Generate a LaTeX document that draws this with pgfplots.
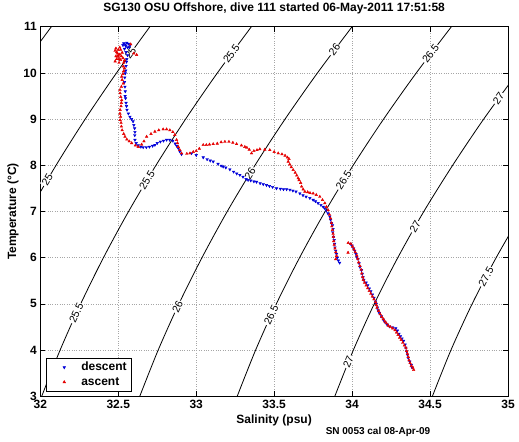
\documentclass[border=0pt]{standalone}
\usepackage{fontspec}
\setmainfont{Liberation Sans}
\usepackage{pgfplots}
\pgfplotsset{compat=1.18}
\begin{document}
\begin{tikzpicture}
\begin{axis}[
  name=ax,
  scale only axis,
  width=467.7pt, height=369.6pt,
  xmin=32, xmax=35, ymin=3, ymax=11,
  xtick={32,32.5,33,33.5,34,34.5,35},
  ytick={3,4,5,6,7,8,9,10,11},
  /pgf/number format/assume math mode=true,
  ticklabel style={font=\bfseries\fontsize{12}{14}\selectfont},
  tick align=inside, xtick pos=both, ytick pos=both,
  major tick length=5pt,
  tick style={black, line width=0.5pt},
  axis line style={black, line width=0.6pt},
  grid=major,
  grid style={gray!70, dotted, line width=0.6pt},
  title={SG130 OSU Offshore, dive 111 started 06-May-2011 17:51:58},
  title style={at={(rel axis cs:0.5,1.0344)}, anchor=center, font=\bfseries\fontsize{12}{14}\selectfont},
  xlabel={Salinity (psu)},
  xlabel style={at={(rel axis cs:0.5,-0.066)}, anchor=center, font=\bfseries\fontsize{12}{14}\selectfont},
  ylabel={Temperature (°C)},
  ylabel style={at={(rel axis cs:-0.0584,0.5)}, anchor=center, font=\bfseries\fontsize{12}{14}\selectfont},
  legend cell align=left,
  legend style={at={(rel axis cs:0.0122,0.0143)}, anchor=south west, draw=black, line width=0.5pt, fill=white,
    font=\bfseries\fontsize{12}{14}\selectfont, inner xsep=3pt, inner ysep=2pt, row sep=1pt},
  legend image code/.code={\path[draw=none, fill=none] (0pt,-2pt) rectangle (30pt,2pt); \draw[#1] plot[only marks] coordinates {(15pt,0pt)};},
]
% isopycnal contours
\addplot[black, line width=0.8pt, smooth, forget plot] coordinates {(31.856,10) (31.962,10.5) (32.071,11)};
\addplot[black, line width=0.8pt, smooth, forget plot] coordinates {(31.928,7) (32.101,8) (32.288,9) (32.489,10) (32.703,11)};
\addplot[black, line width=0.8pt, smooth, forget plot] coordinates {(32.009,3) (32.127,4) (32.259,5) (32.405,6) (32.566,7) (32.742,8) (32.932,9) (33.136,10) (33.354,11)};
\addplot[black, line width=0.8pt, smooth, forget plot] coordinates {(32.638,3) (32.756,4) (32.889,5) (33.037,6) (33.199,7) (33.377,8) (33.570,9) (33.778,10) (34.000,11)};
\addplot[black, line width=0.8pt, smooth, forget plot] coordinates {(33.263,3) (33.381,4) (33.514,5) (33.663,6) (33.827,7) (34.007,8) (34.202,9) (34.412,10) (34.637,11)};
\addplot[black, line width=0.8pt, smooth, forget plot] coordinates {(33.889,3) (34.008,4) (34.142,5) (34.293,6) (34.460,7) (34.645,8) (34.844,9) (35.060,10)};
\addplot[black, line width=0.8pt, smooth, forget plot] coordinates {(34.515,3) (34.634,4) (34.770,5) (34.924,6) (35.095,7)};
% contour labels
\begin{scope}[every node/.style={fill=white, inner sep=0.8pt, font=\fontsize{10.5}{12}\selectfont}]
\node[rotate=54] at (axis cs:32.579,10.43) {25};
\node[rotate=59] at (axis cs:32.044,7.68) {25};
\node[rotate=54] at (axis cs:33.226,10.42) {25.5};
\node[rotate=59] at (axis cs:32.684,7.68) {25.5};
\node[rotate=65] at (axis cs:32.231,4.80) {25.5};
\node[rotate=53] at (axis cs:33.887,10.50) {26};
\node[rotate=58] at (axis cs:33.346,7.83) {26};
\node[rotate=65] at (axis cs:32.880,4.94) {26};
\node[rotate=53] at (axis cs:34.504,10.42) {26.5};
\node[rotate=58] at (axis cs:33.947,7.68) {26.5};
\node[rotate=65] at (axis cs:33.481,4.76) {26.5};
\node[rotate=54] at (axis cs:34.939,9.45) {27};
\node[rotate=60] at (axis cs:34.404,6.67) {27};
\node[rotate=67] at (axis cs:33.976,3.75) {27};
\node[rotate=62] at (axis cs:34.859,5.59) {27.5};
\end{scope}
% descent
\addplot[only marks, mark=triangle*, mark size=1.5pt, color=blue!85!black, mark options={rotate=180}] table {
S T
32.535 10.64
32.545 10.62
32.555 10.65
32.565 10.63
32.575 10.60
32.548 10.58
32.560 10.55
32.530 10.60
32.540 10.52
32.570 10.56
32.550 10.45
32.560 10.38
32.555 10.30
32.553 10.24
32.550 10.15
32.548 10.05
32.545 9.99
32.542 9.90
32.540 9.80
32.543 9.70
32.545 9.60
32.544 9.50
32.547 9.45
32.550 9.35
32.553 9.28
32.556 9.20
32.565 9.12
32.575 9.05
32.585 9.00
32.595 8.95
32.600 8.87
32.605 8.80
32.607 8.72
32.606 8.65
32.607 8.55
32.615 8.48
32.628 8.43
32.645 8.40
32.660 8.39
32.680 8.39
32.700 8.40
32.720 8.42
32.735 8.44
32.750 8.48
32.770 8.51
32.790 8.53
32.810 8.55
32.830 8.55
32.850 8.53
32.865 8.47
32.875 8.42
32.885 8.37
32.895 8.30
32.906 8.24
32.970 8.26
33.000 8.22
33.045 8.17
33.070 8.13
33.090 8.10
33.109 8.08
33.140 8.03
33.160 7.99
33.173 7.97
33.190 7.95
33.216 7.91
33.240 7.86
33.260 7.82
33.280 7.79
33.300 7.75
33.320 7.70
33.333 7.68
33.350 7.67
33.370 7.65
33.387 7.64
33.410 7.61
33.430 7.59
33.451 7.57
33.470 7.55
33.490 7.53
33.515 7.50
33.540 7.49
33.560 7.48
33.580 7.48
33.601 7.47
33.620 7.45
33.640 7.43
33.665 7.39
33.685 7.35
33.705 7.32
33.729 7.29
33.750 7.25
33.765 7.22
33.782 7.18
33.800 7.14
33.815 7.10
33.825 7.07
33.835 7.02
33.845 6.96
33.857 6.89
33.862 6.82
33.868 6.75
33.874 6.70
33.878 6.62
33.876 6.55
33.880 6.45
33.885 6.38
33.888 6.30
33.890 6.22
33.895 6.15
33.900 6.08
33.905 6.00
33.912 5.94
33.920 5.89
33.990 6.30
34.000 6.26
34.010 6.20
34.017 6.15
34.025 6.08
34.030 6.02
34.038 5.97
34.045 5.88
34.050 5.80
34.060 5.73
34.065 5.65
34.070 5.58
34.075 5.52
34.090 5.46
34.100 5.40
34.110 5.33
34.120 5.27
34.130 5.20
34.140 5.13
34.150 5.05
34.155 5.00
34.162 4.92
34.167 4.86
34.175 4.80
34.188 4.73
34.200 4.66
34.210 4.61
34.225 4.55
34.240 4.51
34.260 4.49
34.280 4.47
34.290 4.42
34.300 4.35
34.310 4.30
34.320 4.25
34.330 4.20
34.340 4.12
34.345 4.05
34.350 3.97
34.355 3.90
34.360 3.83
34.370 3.75
34.380 3.68
34.385 3.62
};
\addlegendentry{descent}
% ascent
\addplot[only marks, mark=triangle*, mark size=1.5pt, color=red!90!black] table {
S T
34.395 3.57
34.390 3.62
34.380 3.66
34.372 3.72
34.365 3.78
34.360 3.85
34.355 3.92
34.350 3.98
34.345 4.05
34.335 4.10
34.325 4.16
34.315 4.22
34.305 4.27
34.295 4.33
34.285 4.38
34.275 4.43
34.260 4.47
34.245 4.50
34.232 4.53
34.220 4.58
34.210 4.62
34.200 4.67
34.190 4.72
34.180 4.78
34.170 4.85
34.160 4.92
34.155 4.98
34.150 5.04
34.140 5.10
34.130 5.16
34.120 5.22
34.110 5.28
34.100 5.34
34.090 5.40
34.080 5.46
34.072 5.52
34.068 5.58
34.062 5.66
34.058 5.74
34.050 5.82
34.042 5.90
34.036 5.98
34.030 6.05
34.020 6.12
34.012 6.18
34.003 6.24
33.992 6.30
33.975 6.32
33.974 6.11
33.895 5.97
33.900 6.04
33.895 6.12
33.890 6.20
33.885 6.28
33.882 6.36
33.880 6.45
33.878 6.52
33.874 6.60
33.870 6.68
33.868 6.75
33.862 6.85
33.855 6.93
33.846 7.03
33.835 7.10
33.825 7.18
33.810 7.25
33.793 7.32
33.770 7.36
33.750 7.39
33.730 7.40
33.715 7.42
33.697 7.43
33.686 7.48
33.676 7.54
33.670 7.62
33.660 7.68
33.654 7.72
33.645 7.78
33.635 7.84
33.622 7.90
33.610 7.96
33.600 8.02
33.590 8.08
33.595 8.14
33.585 8.17
33.570 8.21
33.550 8.24
33.526 8.26
33.500 8.29
33.472 8.33
33.440 8.34
33.408 8.35
33.390 8.33
33.370 8.31
33.355 8.26
33.340 8.34
33.325 8.38
33.312 8.40
33.290 8.43
33.259 8.46
33.235 8.49
33.210 8.51
33.184 8.51
33.160 8.50
33.135 8.47
33.109 8.46
33.085 8.45
33.065 8.44
33.045 8.44
33.020 8.36
33.000 8.31
32.981 8.29
32.960 8.26
32.940 8.25
32.906 8.26
32.895 8.33
32.885 8.40
32.880 8.48
32.874 8.55
32.863 8.66
32.850 8.72
32.831 8.76
32.810 8.78
32.788 8.78
32.760 8.76
32.735 8.73
32.710 8.68
32.682 8.62
32.665 8.52
32.650 8.45
32.628 8.40
32.610 8.43
32.586 8.48
32.570 8.52
32.555 8.56
32.543 8.62
32.535 8.68
32.525 8.76
32.520 8.84
32.518 8.92
32.512 8.98
32.515 9.05
32.511 9.12
32.512 9.20
32.518 9.28
32.520 9.35
32.522 9.41
32.516 9.48
32.512 9.56
32.511 9.63
32.520 9.70
32.532 9.77
32.525 9.85
32.522 9.92
32.530 9.98
32.535 10.04
32.540 10.10
32.532 10.14
32.480 10.25
32.490 10.30
32.500 10.35
32.510 10.40
32.490 10.45
32.500 10.50
32.510 10.55
32.485 10.53
32.495 10.42
32.515 10.28
32.530 10.32
32.525 10.44
32.485 10.36
32.505 10.22
32.535 10.22
32.540 10.27
32.480 10.48
32.500 10.38
32.515 10.50
32.520 10.36
32.505 10.30
32.618 10.39
32.600 10.42
32.580 10.62
};
\addlegendentry{ascent}
\coordinate (BL) at (rel axis cs:0,0);
\coordinate (TR) at (rel axis cs:1,1);
\end{axis}
\node[font=\bfseries\fontsize{10}{12}\selectfont] at ([xshift=337.7pt, yshift=-36pt]BL) {SN 0053 cal 08-Apr-09};
\pgfresetboundingbox
\path ([xshift=-40.3pt, yshift=-45.7pt]BL) rectangle ([xshift=11pt, yshift=26.7pt]TR);
\end{tikzpicture}
\end{document}
